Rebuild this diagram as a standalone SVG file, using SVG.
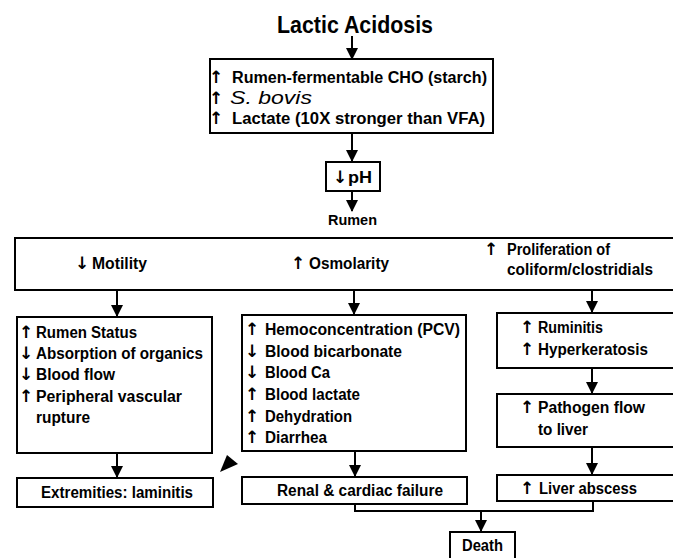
<svg xmlns="http://www.w3.org/2000/svg" width="673" height="558" viewBox="0 0 673 558">
<style>
.box{fill:#fff;stroke:#000;stroke-width:2}
.t{font-family:"Liberation Sans","Arial",sans-serif;font-weight:bold;font-size:16px;fill:#000}
.ar{font-family:"DejaVu Sans","Liberation Sans",sans-serif;font-weight:bold;font-size:17px;fill:#000;text-anchor:middle}
.it{font-family:"Liberation Sans","Arial",sans-serif;font-style:italic;font-size:18px;fill:#000}
.ln{fill:none;stroke:#000;stroke-width:2}
</style>
<defs>
<marker id="ah" markerUnits="userSpaceOnUse" markerWidth="12" markerHeight="14" refX="11" refY="6" orient="auto">
<path d="M0,0 L12,6 L0,12 Z" fill="#000"/>
</marker>
</defs>
<rect width="673" height="558" fill="#fff"/>

<g id="connectors">
<line class="ln" x1="352" y1="36" x2="352" y2="59" marker-end="url(#ah)"/>
<line class="ln" x1="352" y1="134" x2="352" y2="161" marker-end="url(#ah)"/>
<line class="ln" x1="352" y1="192" x2="352" y2="211" marker-end="url(#ah)"/>
<line class="ln" x1="117" y1="290" x2="117" y2="316" marker-end="url(#ah)"/>
<line class="ln" x1="354" y1="290" x2="354" y2="314" marker-end="url(#ah)"/>
<line class="ln" x1="592" y1="290" x2="592" y2="312" marker-end="url(#ah)"/>
<line class="ln" x1="117" y1="453" x2="117" y2="477" marker-end="url(#ah)"/>
<line class="ln" x1="355" y1="451" x2="355" y2="476" marker-end="url(#ah)"/>
<line class="ln" x1="592" y1="368" x2="592" y2="393" marker-end="url(#ah)"/>
<line class="ln" x1="592" y1="447" x2="592" y2="474" marker-end="url(#ah)"/>
<polyline class="ln" points="355,504 355,511 593,511 593,501"/>
<line class="ln" x1="481" y1="511" x2="481" y2="531" marker-end="url(#ah)"/>
<polygon points="220,472 227,455 238,464" fill="#000"/>
</g>

<g id="title">
<text x="277" y="33" class="t" style="font-size:24px" textLength="156" lengthAdjust="spacingAndGlyphs">Lactic Acidosis</text>
</g>

<g id="causes">
<rect class="box" x="210" y="59" width="283" height="74"/>
<text class="ar" x="216" y="83">↑</text>
<text class="t" x="232" y="83" textLength="255" lengthAdjust="spacingAndGlyphs">Rumen-fermentable CHO (starch)</text>
<text class="ar" x="216" y="104">↑</text>
<text class="it" x="230" y="104" textLength="82" lengthAdjust="spacingAndGlyphs">S. bovis</text>
<text class="ar" x="216" y="124">↑</text>
<text class="t" x="232" y="124" textLength="253" lengthAdjust="spacingAndGlyphs">Lactate (10X stronger than VFA)</text>
</g>

<g id="ph">
<rect class="box" x="326" y="162" width="54" height="29"/>
<text class="ar" x="340" y="183">↓</text>
<text class="t" x="348" y="183" textLength="24" lengthAdjust="spacingAndGlyphs">pH</text>
</g>

<g id="rumen">
<text class="t" x="328" y="225" style="font-size:14px" textLength="49" lengthAdjust="spacingAndGlyphs">Rumen</text>
<rect class="box" x="15" y="238" width="670" height="52"/>
<text class="ar" x="82" y="269">↓</text>
<text class="t" x="92" y="269" textLength="55" lengthAdjust="spacingAndGlyphs">Motility</text>
<text class="ar" x="298" y="269">↑</text>
<text class="t" x="309" y="269" textLength="80" lengthAdjust="spacingAndGlyphs">Osmolarity</text>
<text class="ar" x="491" y="255">↑</text>
<text class="t" x="507" y="255" textLength="103" lengthAdjust="spacingAndGlyphs">Proliferation of</text>
<text class="t" x="507" y="275" textLength="146" lengthAdjust="spacingAndGlyphs">coliform/clostridials</text>
</g>

<g id="motility-effects">
<rect class="box" x="17" y="317" width="195" height="136"/>
<text class="ar" x="26" y="338">↑</text>
<text class="t" x="36" y="338" textLength="101" lengthAdjust="spacingAndGlyphs">Rumen Status</text>
<text class="ar" x="26" y="359">↓</text>
<text class="t" x="36" y="359" textLength="167" lengthAdjust="spacingAndGlyphs">Absorption of organics</text>
<text class="ar" x="26" y="380">↓</text>
<text class="t" x="36" y="380" textLength="79" lengthAdjust="spacingAndGlyphs">Blood flow</text>
<text class="ar" x="26" y="402">↑</text>
<text class="t" x="36" y="402" textLength="146" lengthAdjust="spacingAndGlyphs">Peripheral vascular</text>
<text class="t" x="36" y="423" textLength="54" lengthAdjust="spacingAndGlyphs">rupture</text>
</g>

<g id="osmolarity-effects">
<rect class="box" x="242" y="315" width="224" height="136"/>
<text class="ar" x="252" y="335">↑</text>
<text class="t" x="265" y="335" textLength="195" lengthAdjust="spacingAndGlyphs">Hemoconcentration (PCV)</text>
<text class="ar" x="252" y="357">↓</text>
<text class="t" x="265" y="357" textLength="137" lengthAdjust="spacingAndGlyphs">Blood bicarbonate</text>
<text class="ar" x="252" y="378">↓</text>
<text class="t" x="265" y="378" textLength="65" lengthAdjust="spacingAndGlyphs">Blood Ca</text>
<text class="ar" x="252" y="400">↑</text>
<text class="t" x="265" y="400" textLength="95" lengthAdjust="spacingAndGlyphs">Blood lactate</text>
<text class="ar" x="252" y="422">↑</text>
<text class="t" x="265" y="422" textLength="87" lengthAdjust="spacingAndGlyphs">Dehydration</text>
<text class="ar" x="252" y="443">↑</text>
<text class="t" x="265" y="443" textLength="62" lengthAdjust="spacingAndGlyphs">Diarrhea</text>
</g>

<g id="ruminitis">
<rect class="box" x="497" y="313" width="190" height="55"/>
<text class="ar" x="527" y="333">↑</text>
<text class="t" x="538" y="333" textLength="65" lengthAdjust="spacingAndGlyphs">Ruminitis</text>
<text class="ar" x="527" y="355">↑</text>
<text class="t" x="538" y="355" textLength="110" lengthAdjust="spacingAndGlyphs">Hyperkeratosis</text>
</g>

<g id="pathogen">
<rect class="box" x="497" y="394" width="190" height="53"/>
<text class="ar" x="527" y="413">↑</text>
<text class="t" x="538" y="413" textLength="107" lengthAdjust="spacingAndGlyphs">Pathogen flow</text>
<text class="t" x="538" y="435" textLength="50" lengthAdjust="spacingAndGlyphs">to liver</text>
</g>

<g id="extremities">
<rect class="box" x="17" y="478" width="196" height="29"/>
<text class="t" x="41" y="498" textLength="152" lengthAdjust="spacingAndGlyphs">Extremities: laminitis</text>
</g>

<g id="renal">
<rect class="box" x="242" y="477" width="225" height="27"/>
<text class="t" x="277" y="496" textLength="166" lengthAdjust="spacingAndGlyphs">Renal &amp; cardiac failure</text>
</g>

<g id="liver">
<rect class="box" x="497" y="475" width="190" height="26"/>
<text class="ar" x="527" y="494">↑</text>
<text class="t" x="539" y="494" textLength="98" lengthAdjust="spacingAndGlyphs">Liver abscess</text>
</g>

<g id="death">
<rect class="box" x="450" y="532" width="65" height="30"/>
<text class="t" x="462" y="551" textLength="41" lengthAdjust="spacingAndGlyphs">Death</text>
</g>
</svg>
